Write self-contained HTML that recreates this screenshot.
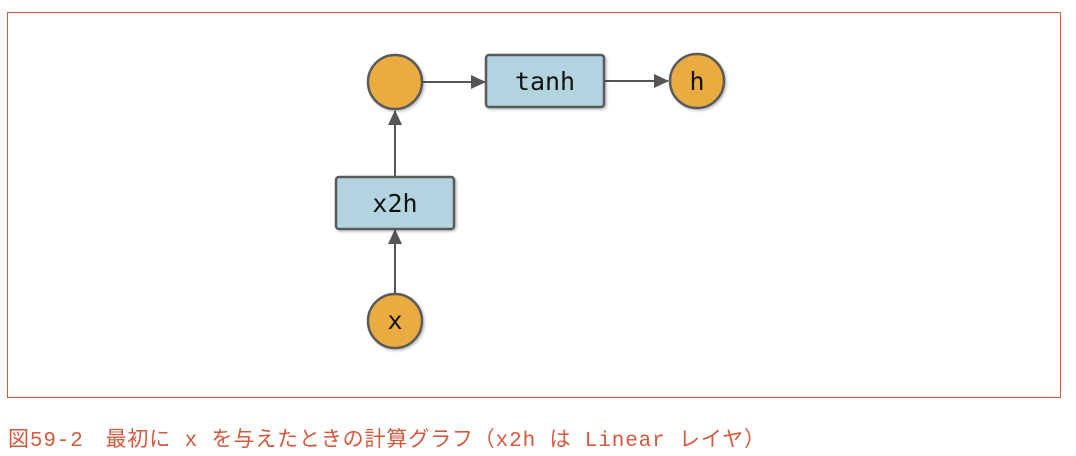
<!DOCTYPE html>
<html><head><meta charset="utf-8"><style>
body{margin:0;width:1076px;height:456px;background:#fff;overflow:hidden}
svg{position:absolute;left:0;top:0}
</style></head><body>
<svg width="1076" height="456">
<defs>
<marker id="ah" markerWidth="15" markerHeight="14" refX="14" refY="7" orient="auto" markerUnits="userSpaceOnUse" viewBox="0 0 15 14"><path d="M0,0 L15,7 L0,14 z" fill="#555"/></marker>
<filter id="sh" x="-20%" y="-20%" width="150%" height="150%"><feDropShadow dx="1.5" dy="1.5" stdDeviation="1.2" flood-color="#000" flood-opacity="0.25"/></filter>
</defs>
<rect x="7.5" y="12.5" width="1053" height="385" fill="none" stroke="#d4583c" stroke-width="1"/>
<g stroke="#555" stroke-width="2" fill="none">
<line x1="395" y1="293" x2="395" y2="230" marker-end="url(#ah)"/>
<line x1="395" y1="177" x2="395" y2="111" marker-end="url(#ah)"/>
<line x1="423" y1="82" x2="485" y2="82" marker-end="url(#ah)"/>
<line x1="604" y1="81" x2="668" y2="81" marker-end="url(#ah)"/>
</g>
<g stroke="#5a5a5a" stroke-width="2.5" filter="url(#sh)">
<circle cx="395" cy="82" r="27" fill="#eaab41"/>
<circle cx="697" cy="81" r="27" fill="#eaab41"/>
<circle cx="395" cy="321" r="27" fill="#eaab41"/>
<rect x="486" y="55" width="118" height="52" rx="3" fill="#b2d3e0"/>
<rect x="336" y="177" width="118" height="52" rx="3" fill="#b2d3e0"/>
</g>
<g font-family="'DejaVu Sans Mono','Liberation Mono',monospace" font-size="25" fill="#111" text-anchor="middle">
<text x="545" y="90">tanh</text>
<text x="395" y="212">x2h</text>
<text x="697" y="90">h</text>
<text x="395" y="329">x</text>
</g>
<text x="8" y="446" font-family="'Liberation Mono','Noto Sans CJK JP',monospace" font-size="21" fill="#d4583c" textLength="757" lengthAdjust="spacing">図59-2　最初に x を与えたときの計算グラフ（x2h は Linear レイヤ）</text>
</svg>
</body></html>
